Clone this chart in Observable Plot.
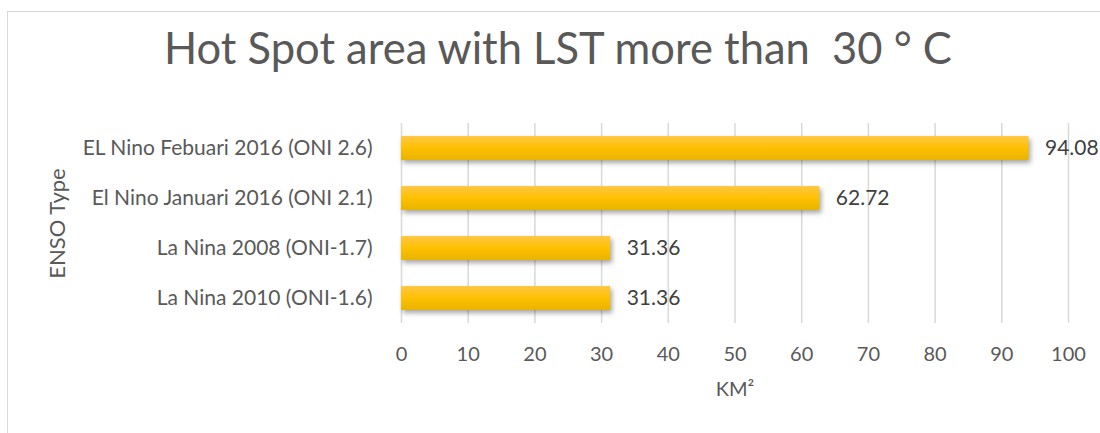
<!DOCTYPE html>
<html>
<head>
<meta charset="utf-8">
<script src="https://cdn.jsdelivr.net/npm/d3@7"></script>
<script src="https://cdn.jsdelivr.net/npm/@observablehq/plot@0.6"></script>
<style>
  html, body { margin: 0; padding: 0; background: #fff; }
  #wrap { position: relative; width: 1100px; height: 433px; overflow: hidden; font-family: Lato, "Open Sans", sans-serif; }
  #border { position: absolute; left: 7px; top: 11px; width: 1100px; height: 430px; border-left: 1px solid #d9d9d9; border-top: 1px solid #d9d9d9; box-sizing: border-box; }
  #title { position: absolute; left: 0; width: 1116px; top: 17px; text-align: center; font-size: 43.5px; color: #595959; line-height: 60px; white-space: pre; }
  #chart { position: absolute; left: 0; top: 0; }
</style>
</head>
<body>
<div id="wrap">
  <div id="border"></div>
  <div id="title">Hot Spot area with LST more than  30 ° C</div>
  <div id="chart"></div>
</div>
<script>
const categories = [
  "EL Nino Febuari 2016 (ONI 2.6)",
  "El Nino Januari 2016 (ONI 2.1)",
  "La Nina 2008 (ONI-1.7)",
  "La Nina 2010 (ONI-1.6)"
];
const values = [94.08, 62.72, 31.36, 31.36];
const xTicks = [0, 10, 20, 30, 40, 50, 60, 70, 80, 90, 100];

const data = categories.map((c, i) => ({category: c, value: values[i]}));

const chart = Plot.plot({
  width: 1100,
  height: 433,
  marginTop: 123,
  marginBottom: 110,
  marginLeft: 401,
  marginRight: 32,
  style: {fontFamily: "Lato, 'Open Sans', sans-serif", color: "#595959", background: "transparent"},
  x: {domain: [0, 100], ticks: xTicks, label: null},
  y: {domain: categories, paddingInner: 0.52, paddingOuter: 0.26, label: null},
  marks: [
    Plot.gridX(xTicks, {stroke: "#d9d9d9", strokeOpacity: 1, strokeWidth: 1.5}),
    Plot.barX(data, {x: "value", y: "category", fill: "url(#goldGrad)"}),
    Plot.text(data, {x: "value", y: "category", text: d => d.value.toFixed(2), dx: 16, textAnchor: "start", fontSize: 21, fill: "#404040"}),
    Plot.axisX({ticks: xTicks, tickSize: 0, tickPadding: 23, fontSize: 20, label: "KM²", labelArrow: "none", labelAnchor: "center", labelOffset: 72}),
    Plot.axisY({tickSize: 0, tickPadding: 29, fontSize: 21, label: "ENSO Type", labelArrow: "none", labelAnchor: "center", labelOffset: 352})
  ]
});

const ns = "http://www.w3.org/2000/svg";
const defs = document.createElementNS(ns, "defs");
defs.innerHTML = `<linearGradient id="goldGrad" x1="0" y1="0" x2="0" y2="1">
  <stop offset="0" stop-color="#ffc746"/>
  <stop offset="0.5" stop-color="#ffc000"/>
  <stop offset="1" stop-color="#e8b400"/>
</linearGradient>`;
chart.insertBefore(defs, chart.firstChild);
chart.querySelectorAll("g[aria-label='bar'] rect").forEach(r => r.setAttribute("style", "filter: drop-shadow(2px 3px 2.5px rgba(0,0,0,0.35))"));
// axis label font sizes and arrow removal (for older 0.6 releases)
chart.querySelectorAll("g[aria-label='x-axis label'] text").forEach(t => {
  t.textContent = t.textContent.replace(/\s*[→↑←↓]\s*/g, "");
  t.setAttribute("font-size", 20);
});
chart.querySelectorAll("g[aria-label='y-axis label'] text").forEach(t => {
  t.textContent = t.textContent.replace(/\s*[→↑←↓]\s*/g, "");
  t.setAttribute("font-size", 22);
});
document.getElementById("chart").appendChild(chart);
</script>
</body>
</html>
